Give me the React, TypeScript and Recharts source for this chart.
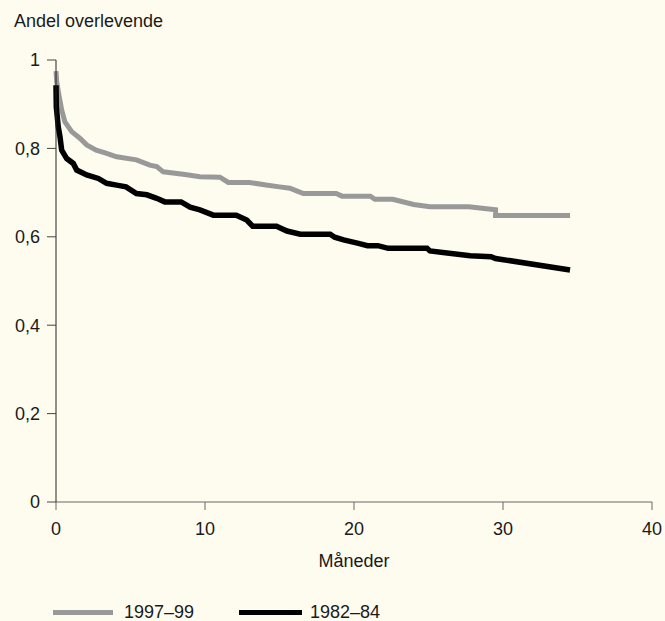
import React from 'react';
import { LineChart, Line, XAxis, YAxis, Label } from 'recharts';

// Kaplan-Meier curves, months vs share surviving
const months9799 = [0, 0.05, 0.2, 0.38, 0.6, 1.05, 1.6, 2.06, 2.7, 3.3, 4.07, 5.4, 6.3, 6.76, 7.2, 8.66, 9.66, 11.0, 11.56, 13.0, 14.1, 15.0, 15.7, 16.15, 16.6, 18.8, 19.2, 21.1, 21.4, 22.6, 24.0, 25.1, 27.7, 29.5, 29.5, 34.5];
const surv9799 = [0.975, 0.95, 0.92, 0.887, 0.86, 0.838, 0.823, 0.808, 0.796, 0.79, 0.781, 0.774, 0.762, 0.759, 0.747, 0.741, 0.736, 0.735, 0.723, 0.723, 0.717, 0.713, 0.71, 0.704, 0.698, 0.698, 0.692, 0.692, 0.685, 0.685, 0.673, 0.668, 0.668, 0.661, 0.648, 0.648];

const months8284 = [0, 0.02, 0.15, 0.27, 0.38, 0.72, 1.16, 1.39, 2.06, 2.84, 3.4, 4.07, 4.7, 5.4, 6.1, 6.76, 7.3, 8.4, 9.0, 9.66, 10.56, 12.1, 12.8, 13.2, 14.8, 15.5, 16.4, 18.4, 18.7, 19.3, 20.3, 20.9, 21.6, 22.3, 24.9, 25.1, 27.8, 29.2, 29.5, 34.5];
const surv8284 = [0.943, 0.894, 0.849, 0.826, 0.796, 0.777, 0.766, 0.751, 0.74, 0.732, 0.721, 0.717, 0.713, 0.698, 0.695, 0.687, 0.679, 0.679, 0.667, 0.661, 0.649, 0.649, 0.638, 0.624, 0.624, 0.613, 0.606, 0.606, 0.599, 0.593, 0.585, 0.58, 0.58, 0.574, 0.574, 0.568, 0.557, 0.555, 0.551, 0.525];

const xTicks = [0, 10, 20, 30, 40];
const yTicks = [0, 0.2, 0.4, 0.6, 0.8, 1];

const FONT = '"Liberation Sans", Arial, sans-serif';
const FS = 18;
const BG = '#fefcef';

const toPoints = (t: number[], v: number[]) => t.map((m, i) => ({ t: m, v: v[i] }));
const data9799 = toPoints(months9799, surv9799);
const data8284 = toPoints(months8284, surv8284);

const LegendItem: React.FC<{ color: string; label: string; left: number; lineW: number; gap: number }> = ({ color, label, left, lineW, gap }) => (
  <div style={{ position: 'absolute', left, top: 600, height: 24, display: 'flex', alignItems: 'center' }}>
    <div style={{ width: lineW, height: 5, background: color }} />
    <span style={{ marginLeft: gap, fontSize: FS, color: '#1a1a1a', lineHeight: '24px' }}>{label}</span>
  </div>
);

export default function App() {
  return (
    <div style={{ position: 'fixed', left: 0, top: 0, width: 665, height: 621, background: BG, fontFamily: FONT, overflow: 'hidden' }}>
      <div style={{ position: 'absolute', left: 14, top: 11, fontSize: FS, lineHeight: '20px', color: '#1a1a1a' }}>
        Andel overlevende
      </div>
      <LineChart width={665} height={621} margin={{ top: 60, right: 13, bottom: 49, left: 0 }}>
        <XAxis
          type="number"
          dataKey="t"
          domain={[0, 40]}
          ticks={xTicks}
          tickSize={8}
          tickMargin={12}
          height={70}
          stroke="#666"
          tick={{ fill: '#1a1a1a', fontSize: FS, fontFamily: FONT }}
          tickLine={{ stroke: '#666' }}
          axisLine={{ stroke: '#666' }}
        >
          <Label value="Måneder" position="insideBottom" offset={5} style={{ fill: '#1a1a1a', fontSize: FS, fontFamily: FONT }} />
        </XAxis>
        <YAxis
          type="number"
          domain={[0, 1]}
          ticks={yTicks}
          tickSize={9}
          tickMargin={7}
          width={56}
          tickFormatter={(v: number) => String(v).replace('.', ',')}
          tick={{ fill: '#1a1a1a', fontSize: FS, fontFamily: FONT }}
          tickLine={{ stroke: '#444' }}
          axisLine={{ stroke: '#222' }}
        />
        <Line data={data9799} dataKey="v" type="linear" stroke="#999999" strokeWidth={5} dot={false} activeDot={false} isAnimationActive={false} />
        <Line data={data8284} dataKey="v" type="linear" stroke="#000000" strokeWidth={5.5} dot={false} activeDot={false} isAnimationActive={false} />
      </LineChart>
      <LegendItem color="#999999" label="1997–99" left={53} lineW={60} gap={11} />
      <LegendItem color="#000000" label="1982–84" left={239} lineW={63} gap={8} />
    </div>
  );
}
